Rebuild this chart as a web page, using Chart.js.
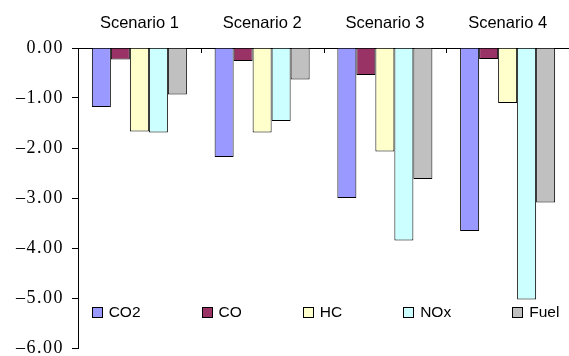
<!DOCTYPE html>
<html>
<head>
<meta charset="utf-8">
<script src="https://cdn.jsdelivr.net/npm/chart.js@4/dist/chart.umd.min.js"></script>
<style>
  html, body { margin: 0; padding: 0; background: #fff; }
  #wrap { width: 569px; height: 356px; }
</style>
</head>
<body>
<div id="wrap"><canvas id="c" width="569" height="356"></canvas></div>
<script>
// Emission / fuel change per scenario
const scenarios = ['Scenario 1', 'Scenario 2', 'Scenario 3', 'Scenario 4'];
const seriesNames = ['CO2', 'CO', 'HC', 'NOx', 'Fuel'];
const co2  = [-1.18, -2.18, -3.00, -3.66];
const co   = [-0.23, -0.26, -0.54, -0.22];
const hc   = [-1.67, -1.69, -2.07, -1.10];
const nox  = [-1.69, -1.46, -3.85, -5.03];
const fuel = [-0.93, -0.63, -2.62, -3.09];
const yTickLabels = ['0.00', '\u20131.00', '\u20132.00', '\u20133.00', '\u20134.00', '\u20135.00', '\u20136.00'];

const seriesValues = [co2, co, hc, nox, fuel];
const fills = ['#9999FF', '#993366', '#FFFFCC', '#CCFFFF', '#C0C0C0'];

Chart.defaults.font.family = '"Liberation Sans", Arial, sans-serif';
Chart.defaults.color = '#000';

// Wider tracking for the serif value labels
const spacedValueLabels = {
  id: 'spacedValueLabels',
  beforeDraw(chart) {
    const s = chart.scales.y;
    if (s && !s.__spaced) {
      const orig = s.drawLabels.bind(s);
      s.drawLabels = (area) => {
        const ctx = s.ctx;
        ctx.save();
        ctx.letterSpacing = '1.5px';
        orig(area);
        ctx.restore();
      };
      s.__spaced = true;
    }
  }
};

// Short marks between categories, hanging below the zero line
const categoryMarks = {
  id: 'categoryMarks',
  afterDatasetsDraw(chart) {
    const x = chart.scales.x;
    const top = chart.chartArea.top;
    const ctx = chart.ctx;
    ctx.save();
    ctx.strokeStyle = '#000';
    ctx.lineWidth = 1;
    for (let i = 1; i < scenarios.length; i++) {
      const px = Math.round((x.getPixelForValue(i - 1) + x.getPixelForValue(i)) / 2) + 0.5;
      ctx.beginPath();
      ctx.moveTo(px, top);
      ctx.lineTo(px, top + 5);
      ctx.stroke();
    }
    ctx.restore();
  }
};

// Legend row drawn inside the plot area
const innerLegend = {
  id: 'innerLegend',
  afterDraw(chart) {
    const ctx = chart.ctx;
    const area = chart.chartArea;
    const box = 11, gap = 6, pad = 61;
    ctx.save();
    ctx.font = '15.5px "Liberation Sans", Arial, sans-serif';
    ctx.textBaseline = 'middle';
    ctx.textAlign = 'left';
    const items = chart.data.datasets.map(d => ({
      text: d.label, fill: d.backgroundColor, w: box + gap + ctx.measureText(d.label).width
    }));
    const total = items.reduce((s, it) => s + it.w, 0) + pad * (items.length - 1);
    let x = (area.left + area.right) / 2 - total / 2 + 2;
    const cy = area.bottom - 36;
    items.forEach(it => {
      const bx = Math.round(x) + 0.5, by = Math.round(cy - box / 2) + 0.5;
      ctx.fillStyle = it.fill;
      ctx.fillRect(bx, by, box - 1, box - 1);
      ctx.strokeStyle = '#000';
      ctx.lineWidth = 1;
      ctx.strokeRect(bx, by, box - 1, box - 1);
      ctx.fillStyle = '#000';
      ctx.fillText(it.text, x + box + gap, cy + 0.5);
      x += it.w + pad;
    });
    ctx.restore();
  }
};

new Chart(document.getElementById('c'), {
  type: 'bar',
  data: {
    labels: scenarios,
    datasets: seriesNames.map((name, i) => ({
      label: name,
      data: seriesValues[i],
      backgroundColor: fills[i],
      borderColor: '#000',
      borderWidth: 1,
      borderSkipped: 'start',
      categoryPercentage: 0.774,
      barPercentage: 1
    }))
  },
  options: {
    responsive: false,
    animation: false,
    events: [],
    layout: { padding: { left: 0, right: 0, top: 0, bottom: 0 } },
    plugins: {
      legend: { display: false },
      tooltip: { enabled: false }
    },
    scales: {
      x: {
        position: 'top',
        grid: { display: true, drawOnChartArea: false, drawTicks: false },
        border: { display: true, color: '#000', width: 1 },
        ticks: {
          padding: 15,
          color: '#000',
          font: { size: 16.5, family: '"Liberation Sans", Arial, sans-serif' },
          maxRotation: 0
        },
        afterFit(scale) { scale.height = 48; }
      },
      y: {
        min: -6,
        max: 0,
        grid: { drawOnChartArea: false, drawTicks: true, tickLength: 6, tickColor: '#000', color: '#000' },
        border: { display: true, color: '#000', width: 1 },
        ticks: {
          stepSize: 1,
          padding: 8,
          color: '#000',
          font: { size: 18, family: '"Liberation Serif", "Times New Roman", serif', lineHeight: 1 },
          callback: v => yTickLabels[Math.round(-v)]
        },
        afterFit(scale) {
          scale.width = 78;
          scale.paddingTop = 0;
          scale.paddingBottom = 8;
        }
      }
    }
  },
  plugins: [spacedValueLabels, categoryMarks, innerLegend]
});
</script>
</body>
</html>
